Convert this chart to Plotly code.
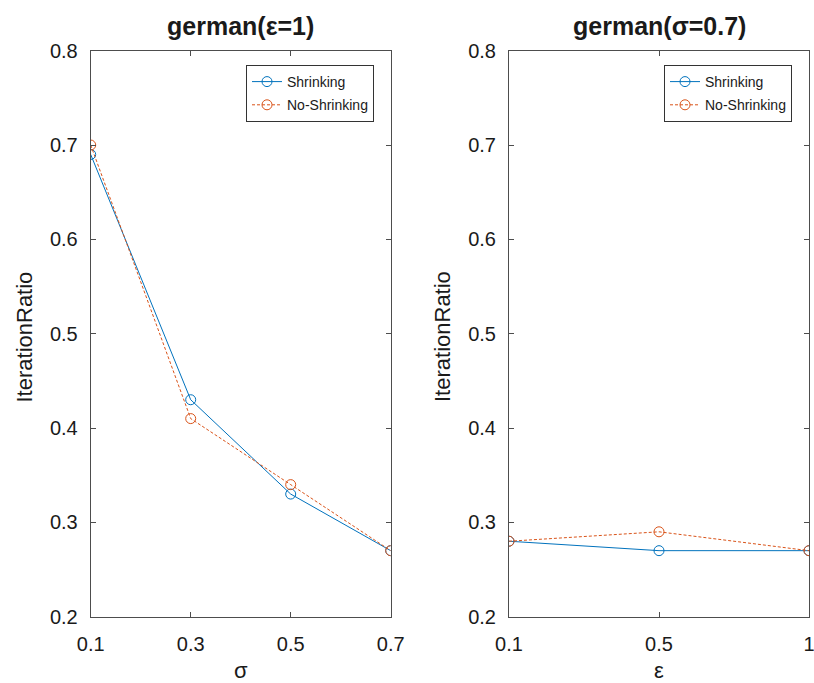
import plotly.graph_objects as go

# sigma sweep at epsilon = 1
sigma_vals = [0.1, 0.3, 0.5, 0.7]
sigma_shrinking = [0.69, 0.43, 0.33, 0.27]
sigma_no_shrinking = [0.70, 0.41, 0.34, 0.27]

# epsilon sweep at sigma = 0.7
eps_labels = ["0.1", "0.5", "1"]
eps_shrinking = [0.28, 0.27, 0.27]
eps_no_shrinking = [0.28, 0.29, 0.27]

y_ticks = [0.2, 0.3, 0.4, 0.5, 0.6, 0.7, 0.8]

BLUE = "#0072BD"
ORANGE = "#D95319"
AXIS = "#4d4d4d"
TEXT = "#1a1a1a"
FONT = "Liberation Sans, Arial, Helvetica, sans-serif"

W, H = 814, 683


def px_x(p):
    return p / W


def px_y(p):
    return 1 - p / H


fig = go.Figure()


def add_pair(x, ys, yn, xa, ya, leg):
    fig.add_trace(go.Scatter(
        x=x, y=ys, name="Shrinking", mode="lines+markers",
        line=dict(color=BLUE, width=1),
        marker=dict(symbol="circle-open", size=10, color=BLUE, line=dict(width=1)),
        xaxis=xa, yaxis=ya, legend=leg, legendgroup=leg + "a",
    ))
    fig.add_trace(go.Scatter(
        x=x, y=yn, name="No-Shrinking", mode="lines+markers",
        line=dict(color=ORANGE, width=1, dash="3px,2px"),
        marker=dict(symbol="circle-open", size=10, color=ORANGE, line=dict(width=1)),
        xaxis=xa, yaxis=ya, legend=leg, legendgroup=leg + "b",
    ))


add_pair(sigma_vals, sigma_shrinking, sigma_no_shrinking, "x", "y", "legend")
add_pair(eps_labels, eps_shrinking, eps_no_shrinking, "x2", "y2", "legend2")

axis_common = dict(
    showline=True, linecolor=AXIS, linewidth=1, mirror="allticks",
    ticks="inside", ticklen=5, tickcolor=AXIS, tickwidth=1,
    showgrid=False, zeroline=False, automargin=False,
    tickfont=dict(family=FONT, size=20, color=TEXT),
)

left_dom = [px_x(90.7), px_x(390.7)]
right_dom = [px_x(509), px_x(809)]
y_dom = [px_y(616.7), px_y(50.7)]

legend_common = dict(
    xanchor="right", yanchor="top", bordercolor="#333333", borderwidth=1,
    bgcolor="white", font=dict(family=FONT, size=14, color=TEXT),
    itemwidth=30, tracegroupgap=2,
)

fig.update_layout(
    width=W, height=H,
    margin=dict(l=0, r=0, t=0, b=0, pad=0, autoexpand=False),
    paper_bgcolor="white", plot_bgcolor="white",
    font=dict(family=FONT, color=TEXT),
    xaxis=dict(domain=left_dom, range=[0.1, 0.7], tickvals=sigma_vals,
               ticktext=[f"{v:g}" for v in sigma_vals], anchor="y",
               ticklabelstandoff=9, **axis_common),
    yaxis=dict(domain=y_dom, range=[0.2, 0.8], tickvals=y_ticks,
               ticktext=[f"{v:g}" for v in y_ticks], anchor="x",
               ticklabelstandoff=8, **axis_common),
    xaxis2=dict(domain=right_dom, type="category", range=[0, 2], anchor="y2",
                ticklabelstandoff=9, **axis_common),
    yaxis2=dict(domain=y_dom, range=[0.2, 0.8], tickvals=y_ticks,
                ticktext=[f"{v:g}" for v in y_ticks], anchor="x2",
                ticklabelstandoff=8, **axis_common),
    legend=dict(x=px_x(374), y=px_y(65), **legend_common),
    legend2=dict(x=px_x(792), y=px_y(65), **legend_common),
    showlegend=True,
)

annots = [
    dict(text="<b>german(ε=1)</b>", x=px_x(240.7), y=px_y(26), size=25),
    dict(text="<b>german(σ=0.7)</b>", x=px_x(659), y=px_y(26), size=25),
    dict(text="σ", x=px_x(240.7), y=px_y(670), size=22),
    dict(text="ε", x=px_x(659), y=px_y(670), size=22),
]
for a in annots:
    fig.add_annotation(text=a["text"], x=a["x"], y=a["y"], xref="paper", yref="paper",
                       xanchor="center", yanchor="middle", showarrow=False,
                       font=dict(family=FONT, size=a["size"], color=TEXT))

for xc in (24.5, 443):
    fig.add_annotation(text="IterationRatio", x=px_x(xc), y=px_y(337), xref="paper",
                       yref="paper", xanchor="center", yanchor="middle", showarrow=False,
                       textangle=-90, font=dict(family=FONT, size=22, color=TEXT))

fig.write_html(
    "out.html",
    post_script="document.body.style.margin='0px';document.body.style.overflow='hidden';",
)
